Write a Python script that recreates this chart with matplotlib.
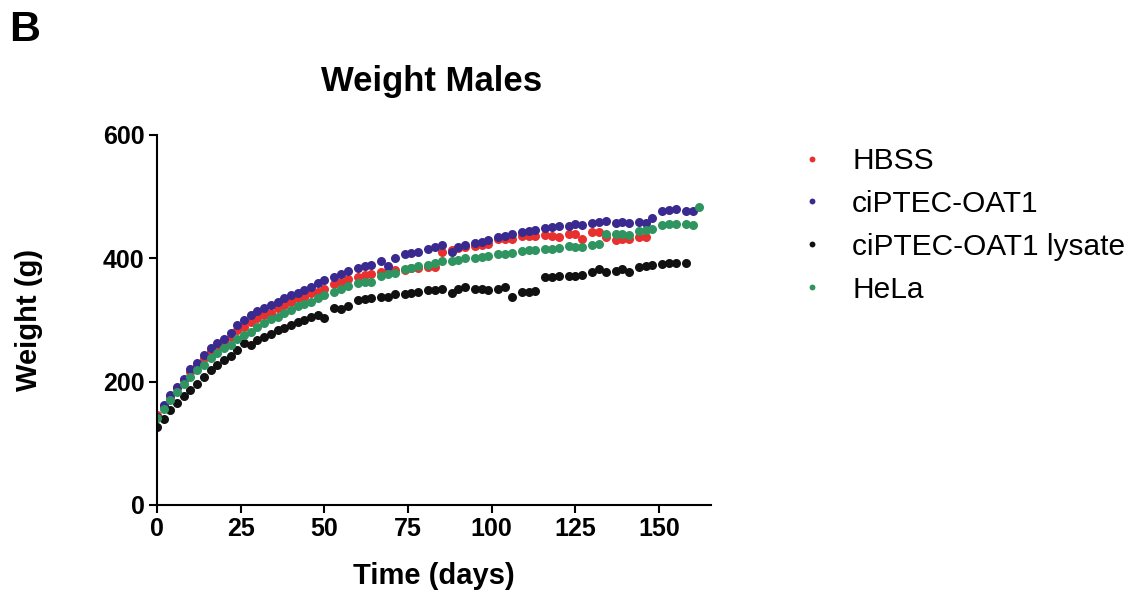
import numpy as np
import matplotlib
matplotlib.use("Agg")
import matplotlib.pyplot as plt

plt.rcParams['font.family'] = ['Liberation Sans', 'DejaVu Sans']

nan = np.nan

# measurement days: every 2 days up to day 50, then three times per week
days = list(range(0, 51, 2))
for start in range(53, 159, 7):
    days += [start, start + 2, start + 4]

hbss = [146, 160, 175, 189, 203, 216, 227, 238, 249, 257, 265, 273, 284, 289, 297, 303, 308, 312, 319, 324, 330, 335, 338, 343, 346, 351,
        358, 362, 366,
        370, 373, 375,
        378, 380, 381,
        381, 384, 385,
        386, 386, 411,
        413, 416, 418,
        420, 422, 424,
        431, 431, 432,
        436, 437, 437,
        438, 437, 435,
        439, 440, 432,
        443, 442, 434,
        430, 432, 431,
        435, 435, nan,
        nan, nan, nan,
        nan, nan, nan]

ciptec = [143, 162, 178, 192, 205, 220, 231, 243, 254, 262, 270, 279, 292, 300, 308, 314, 319, 324, 330, 335, 341, 344, 349, 354, 360, 365,
          370, 375, 380,
          384, 388, 389,
          396, 388, 400,
          407, 409, 411,
          415, 419, 422,
          410, 418, 422,
          425, 427, 429,
          434, 436, 439,
          443, 444, 446,
          449, 451, 452,
          452, 456, 454,
          458, 459, 461,
          458, 459, 458,
          459, 458, 466,
          477, 478, 480,
          477, 476, nan]

lysate = [127, 140, 154, 165, 176, 187, 197, 208, 219, 227, 235, 241, 251, 262, 259, 268, 273, 278, 284, 287, 292, 297, 300, 305, 308, 303,
          319, 318, 323,
          332, 334, 335,
          337, 338, 342,
          342, 343, 346,
          349, 348, 350,
          343, 351, 353,
          351, 350, 349,
          351, 354, 337,
          346, 346, 347,
          369, 369, 371,
          371, 371, 373,
          378, 382, 378,
          380, 382, 378,
          386, 387, 389,
          391, 393, 392,
          392, nan, nan]

hela = [141, 155, 170, 184, 196, 208, 219, 227, 238, 246, 254, 259, 270, 276, 281, 289, 295, 301, 305, 311, 316, 322, 326, 330, 335, 341,
        346, 351, 355,
        360, 362, 362,
        371, 375, 376,
        382, 385, 387,
        390, 393, 396,
        395, 397, 400,
        401, 402, 403,
        407, 407, 408,
        412, 413, 414,
        415, 415, 417,
        420, 418, 418,
        422, 423, 440,
        439, 440, 438,
        445, 446, 447,
        454, 456, 456,
        456, 454, 484]

series_names = ["HBSS", "ciPTEC-OAT1", "ciPTEC-OAT1 lysate", "HeLa"]
series_values = [hbss, ciptec, lysate, hela]
series_colors = ["#e8302e", "#3a2a8f", "#111111", "#2e9460"]

x_ticks = [0, 25, 50, 75, 100, 125, 150]
y_ticks = [0, 200, 400, 600]

fig = plt.figure(figsize=(11.35, 5.95), dpi=100)
ax = fig.add_axes([157/1135, 1 - 505/595, 554/1135, 370/595])

handles = []
for name, vals, col in zip(series_names, series_values, series_colors):
    h, = ax.plot(days, vals, linestyle='none', marker='o', markersize=6.5,
                 color=col, markeredgewidth=0, label=name)
    handles.append(h)

ax.set_xlim(0, 165.5)
ax.set_ylim(0, 600)
ax.set_xticks(x_ticks)
ax.set_yticks(y_ticks)
for s in ['top', 'right']:
    ax.spines[s].set_visible(False)
for s in ['left', 'bottom']:
    ax.spines[s].set_linewidth(1.5)
ax.tick_params(axis='both', direction='out', length=6, width=1.5, pad=3)
for lab in ax.get_xticklabels() + ax.get_yticklabels():
    lab.set_fontsize(18)
    lab.set_fontweight('bold')

ax.set_xlabel("Time (days)", fontsize=21, fontweight='bold')
ax.set_ylabel("Weight (g)", fontsize=21, fontweight='bold')
ax.xaxis.set_label_coords(0.5, -0.155)
ax.yaxis.set_label_coords(-0.205, 0.5)

fig.text(432/1135, 1 - 81/595, "Weight Males", fontsize=25, fontweight='bold',
         ha='center', va='center')
fig.text(9/1135, 1 - 30/595, "B", fontsize=31, fontweight='bold',
         ha='left', va='center')

fig.legend(handles=handles, labels=series_names, loc='upper left',
           bbox_to_anchor=(797/1135, 1 - 147/595), frameon=False,
           fontsize=21.5, handlelength=1.0, handletextpad=0.85,
           labelspacing=0.5, borderpad=0, borderaxespad=0, markerscale=0.65)

fig.savefig("out.png", dpi=100)
